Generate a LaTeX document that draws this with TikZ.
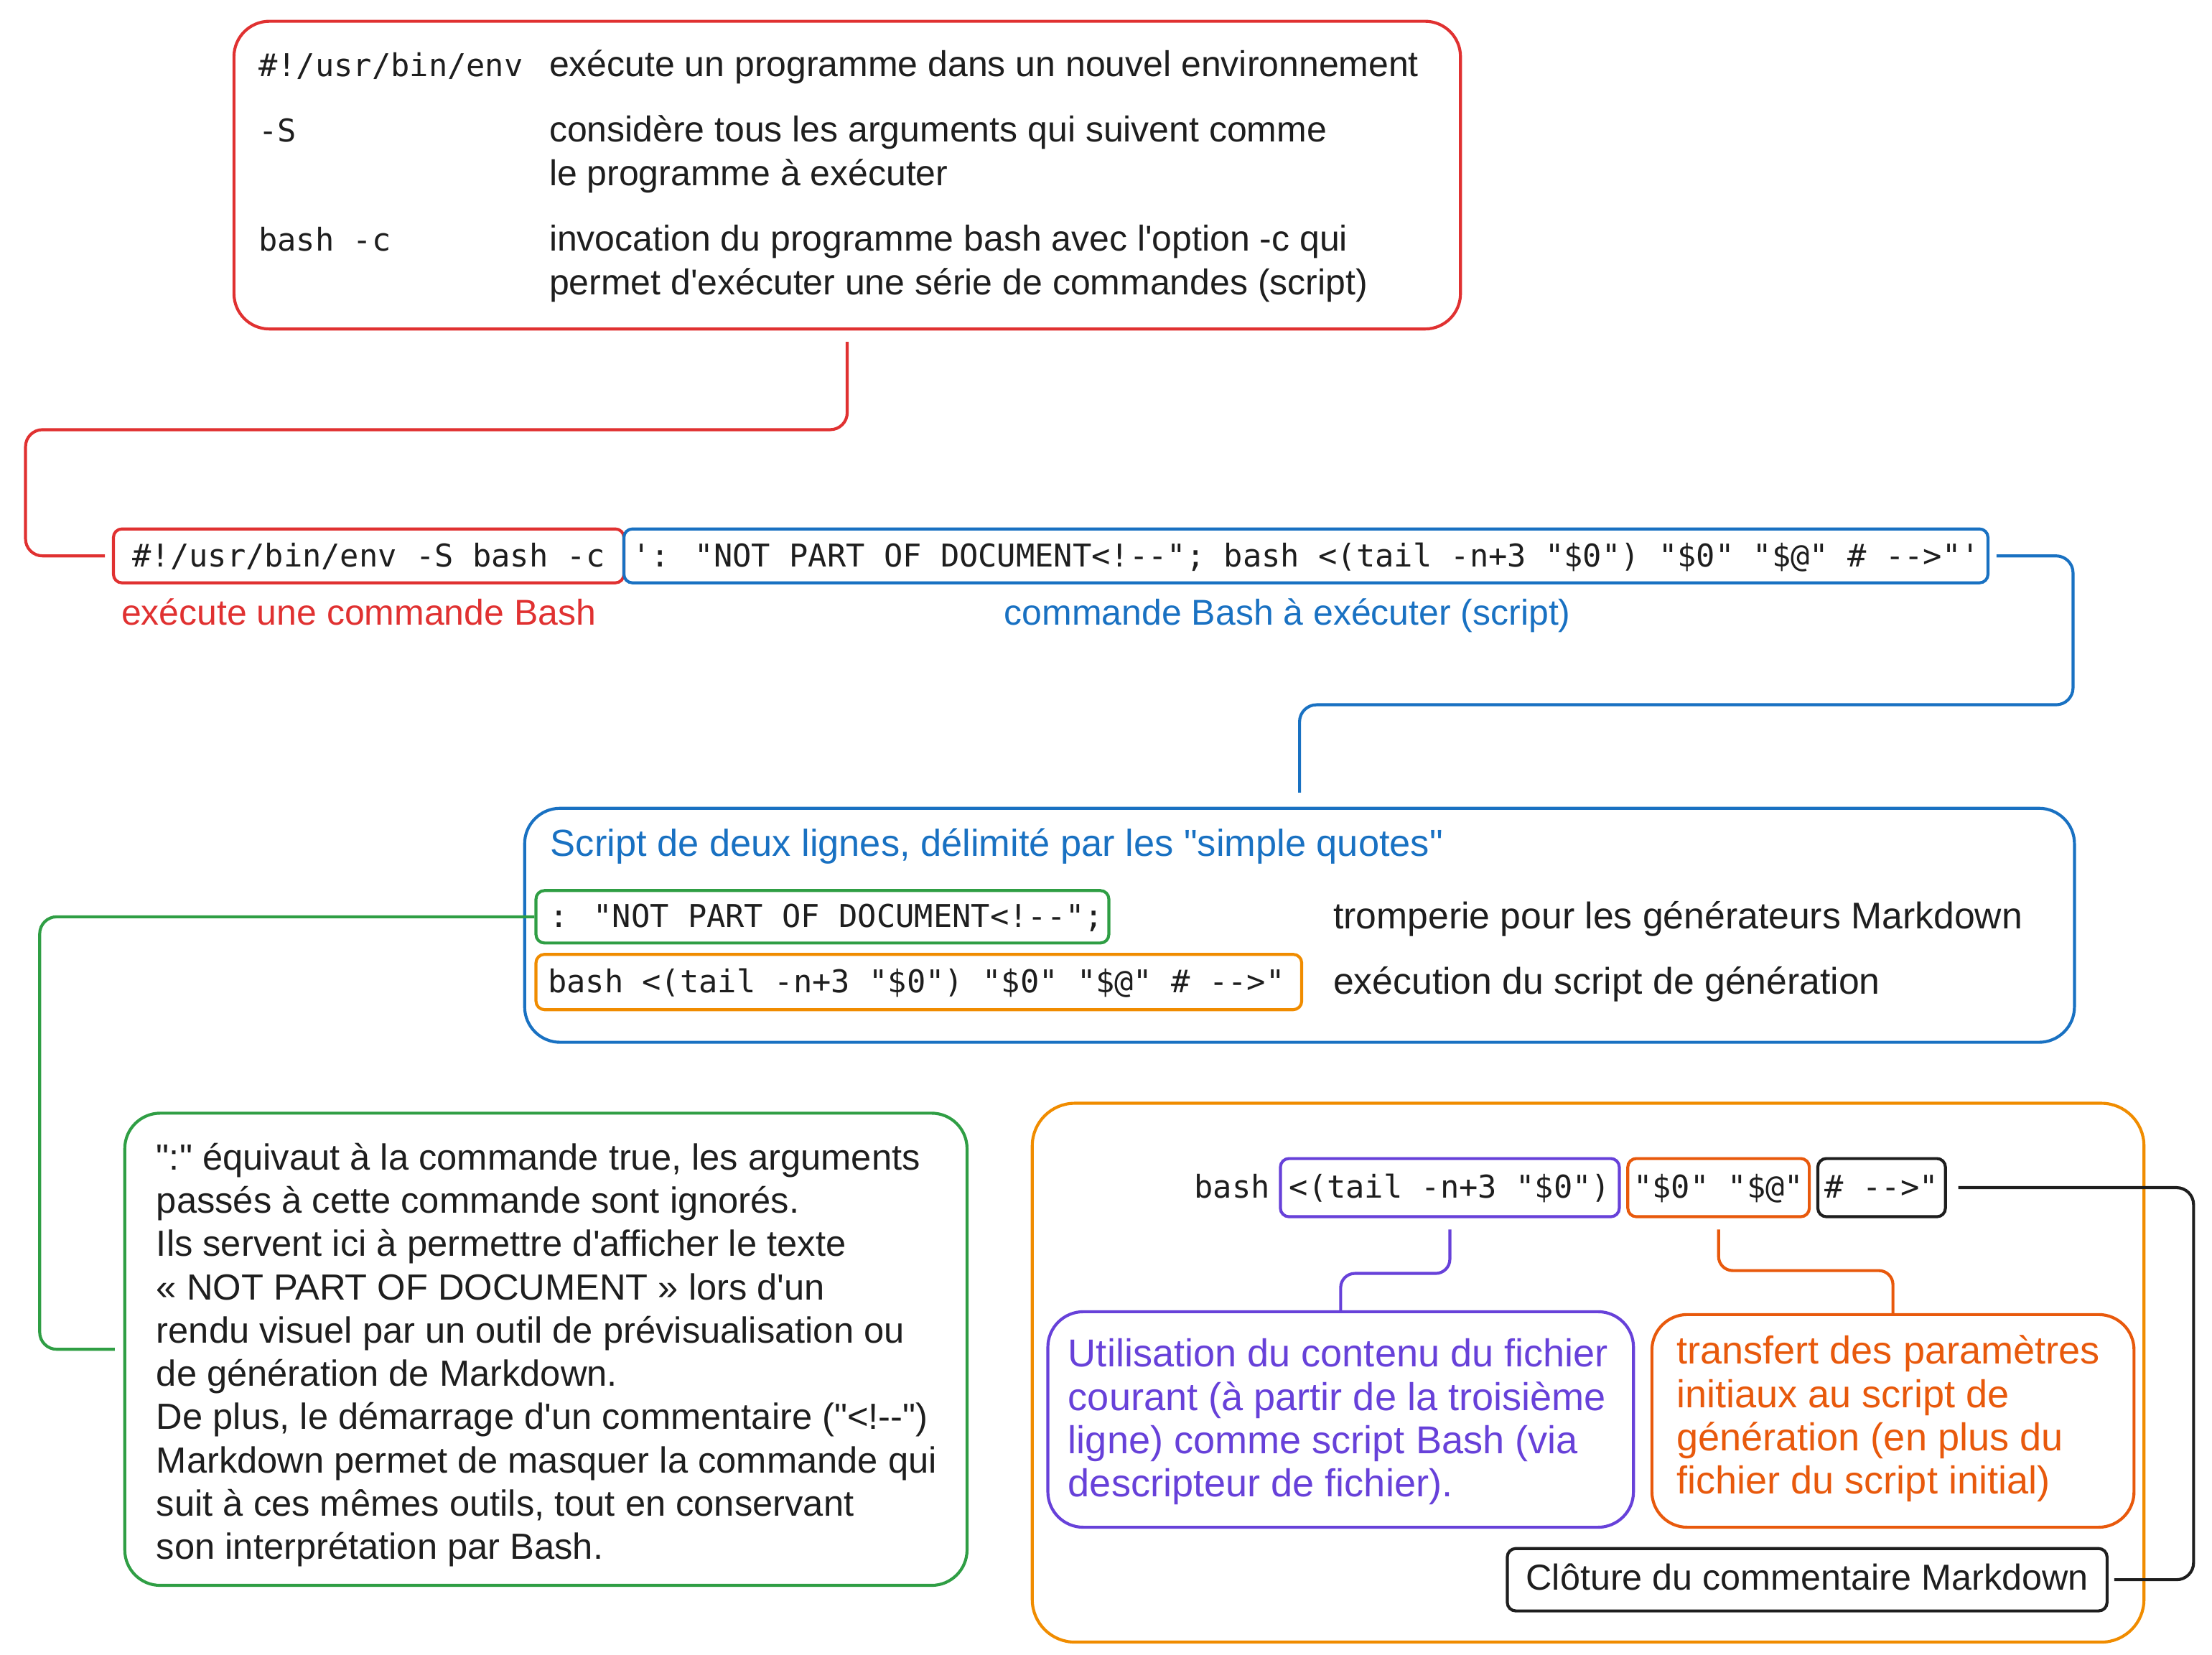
\documentclass[tikz,border=0pt]{standalone}
\usepackage{fontspec}
\setmainfont{Liberation Sans}
\newfontfamily\handfont{Liberation Sans}
\newfontfamily\codefont{DejaVu Sans Mono}
\usetikzlibrary{fit}
\definecolor{exred}{HTML}{E03131}
\definecolor{exblue}{HTML}{1971C2}
\definecolor{exgreen}{HTML}{2F9E44}
\definecolor{exorange}{HTML}{F08C00}
\definecolor{expurple}{HTML}{6741D9}
\definecolor{exored}{HTML}{E8590C}
\definecolor{exblack}{HTML}{1E1E1E}
\begin{document}
\begin{tikzpicture}[x=0.02cm,y=-0.02cm,
  bx/.style={draw=#1, line width=1.2pt, rounded corners=0.12cm, inner sep=0pt},
  bigbx/.style={draw=#1, line width=1.2pt, rounded corners=0.5cm, inner sep=0pt},
  cn/.style={draw=#1, line width=1.2pt, rounded corners=0.24cm},
  txt/.style={inner sep=0pt, anchor=base west, text=exblack, font=\handfont\fontsize{#1}{18}\selectfont},
  txt/.default=14.4,
  mono/.style={inner sep=0pt, anchor=base west, text=exblack, font=\codefont\fontsize{12.6}{15}\selectfont},
]
\useasboundingbox (0,0) rectangle (1560,1166.6);

% ---------- top explanation box ----------
\node[bigbx=exred, fit={(165,15) (1030,232)}] (top) {};
\node[mono] (k1) at (182,54) {\#!/usr/bin/env};
\node[mono] (k2) at (182,100) {-S};
\node[mono] (k3) at (182,177) {bash -c};
\node[txt] (d1) at (387,54) {exécute un programme dans un nouvel environnement};
\node[txt] (d2) at (387,100) {considère tous les arguments qui suivent comme};
\node[txt] (d3) at (387,131) {le programme à exécuter};
\node[txt] (d4) at (387,177) {invocation du programme bash avec l'option -c qui};
\node[txt] (d5) at (387,208) {permet d'exécuter une série de commandes (script)};

% ---------- command line ----------
\node[bx=exred, fit={(80,373) (440,411)}] (redcmd) {};
\node[mono, anchor=base] (redcmdt) at ([yshift=-0.15cm]redcmd.center) {\#!/usr/bin/env -S bash -c};
\node[bx=exblue, fit={(440,373) (1402,411)}] (bluecmd) {};
\node[mono, anchor=base] (bluecmdt) at ([yshift=-0.15cm]bluecmd.center) {': "NOT PART OF DOCUMENT<!--"; bash <(tail -n+3 "\$0") "\$0" "\$@" \# -->"'};
\node[txt, anchor=base, text=exred] (lab1) at (253,441) {exécute une commande Bash};
\node[txt, anchor=base, text=exblue] (lab2) at (908,441) {commande Bash à exécuter (script)};

% ---------- script box ----------
\node[bigbx=exblue, fit={(370,570) (1463,735)}] (bigblue) {};
\node[txt=15.1, text=exblue] (ttl) at (388,604) {Script de deux lignes, délimité par les "simple quotes"};
\node[bx=exgreen, fit={(378,628) (782,665)}] (greencmd) {};
\node[mono] (greencmdt) at (387,654) {: "NOT PART OF DOCUMENT<!--";};
\node[bx=exorange, fit={(378,673) (918,712)}] (orangecmd) {};
\node[mono] (orangecmdt) at (386,700) {bash <(tail -n+3 "\$0") "\$0" "\$@" \# -->"};
\node[txt=14.9] (r1) at (940,655) {tromperie pour les générateurs Markdown};
\node[txt=14.9] (r2) at (940,701) {exécution du script de génération};

% ---------- green explanation ----------
\node[bigbx=exgreen, fit={(88,785) (682,1118)}] (greenbig) {};
\foreach \t [count=\i] in {
  {":" équivaut à la commande true, les arguments},
  {passés à cette commande sont ignorés.},
  {Ils servent ici à permettre d'afficher le texte},
  {« NOT PART OF DOCUMENT » lors d'un},
  {rendu visuel par un outil de prévisualisation ou},
  {de génération de Markdown.},
  {De plus, le démarrage d'un commentaire ("<!--")},
  {Markdown permet de masquer la commande qui},
  {suit à ces mêmes outils, tout en conservant},
  {son interprétation par Bash.}}
  \node[txt=14.6] (g\i) at (110,{825+30.5*(\i-1)}) {\t};

% ---------- orange detail box ----------
\node[draw=exorange, line width=1.2pt, rounded corners=0.6cm, inner sep=0pt, fit={(728,778) (1512,1158)}] (orangebig) {};
\node[mono, anchor=base east] (bashw) at (896,845) {bash};
\node[bx=expurple, fit={(903,817) (1142,858)}] (purplecmd) {};
\node[mono, anchor=base] (purplecmdt) at ([yshift=-0.15cm]purplecmd.center) {<(tail -n+3 "\$0")};
\node[bx=exored, fit={(1148,817) (1276,858)}] (oredcmd) {};
\node[mono, anchor=base] (oredcmdt) at ([yshift=-0.15cm]oredcmd.center) {"\$0" "\$@"};
\node[bx=exblack, fit={(1282,817) (1372,858)}] (blackcmd) {};
\node[mono, anchor=base] (blackcmdt) at ([yshift=-0.15cm]blackcmd.center) {\# -->"};

\node[bigbx=expurple, fit={(739,925) (1152,1077)}] (purplebox) {};
\foreach \t [count=\i] in {
  {Utilisation du contenu du fichier},
  {courant (à partir de la troisième},
  {ligne) comme script Bash (via},
  {descripteur de fichier).}}
  \node[txt=15.6, text=expurple] (p\i) at (753,{964+30.5*(\i-1)}) {\t};

\node[bigbx=exored, fit={(1165,927) (1505,1077)}] (orangebox) {};
\foreach \t [count=\i] in {
  {transfert des paramètres},
  {initiaux au script de},
  {génération (en plus du},
  {fichier du script initial)}}
  \node[txt=15.6, text=exored] (o\i) at (1182,{962+30.5*(\i-1)}) {\t};

\node[bx=exblack, fit={(1063,1092) (1486,1136)}] (blackbox) {};
\node[txt=14.5, anchor=base] (blackboxt) at ([yshift=-0.15cm]blackbox.center) {Clôture du commentaire Markdown};

% ---------- connectors ----------
\draw[cn=exred] ([yshift=-0.16cm]top.south) -- (597.5,303) -- (18,303) -- (18,392) -- ([xshift=-0.1cm]redcmd.west);
\draw[cn=exblue] ([xshift=0.1cm]bluecmd.east) -- (1462,392) -- (1462,497) -- (916.5,497) -- ([yshift=0.2cm]bigblue.north);
\draw[cn=exgreen] (greencmd.west) -- (28,646.5) -- (28,951.5) -- ([xshift=-0.12cm]greenbig.west);
\draw[cn=expurple, rounded corners=0.2cm] ([yshift=-0.16cm]purplecmd.south) -- (1022.5,898) -- (945.5,898) -- (purplebox.north);
\draw[cn=exored, rounded corners=0.2cm] ([yshift=-0.16cm]oredcmd.south) -- (1212,896) -- (1335,896) -- (orangebox.north);
\draw[cn=exblack] ([xshift=0.16cm]blackcmd.east) -- (1547,837.5) -- (1547,1114) -- ([xshift=0.08cm]blackbox.east);
\end{tikzpicture}
\end{document}
